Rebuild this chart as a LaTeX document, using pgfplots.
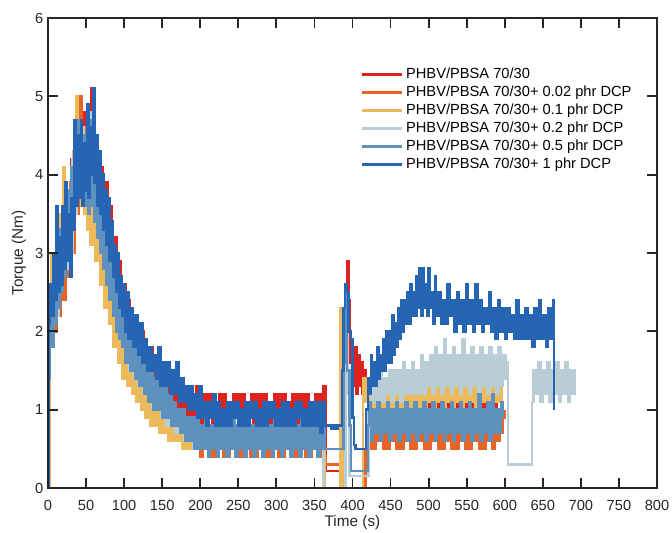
\documentclass[border=0pt]{standalone}
\usepackage{fontspec}
\setmainfont{Liberation Sans}
\usepackage{pgfplots}
\pgfplotsset{compat=1.18}

\definecolor{cRed}{RGB}{220,35,30}
\definecolor{cOrange}{RGB}{232,100,36}
\definecolor{cYellow}{RGB}{236,186,90}
\definecolor{cGray}{RGB}{185,205,215}
\definecolor{cMid}{RGB}{95,145,190}
\definecolor{cBlue}{RGB}{38,100,180}
\definecolor{axgray}{RGB}{38,38,38}

\begin{document}
\begin{tikzpicture}
\begin{axis}[
  scale only axis, width=456.75pt, height=352.5pt,
  xmin=0, xmax=800, ymin=0, ymax=6,
  xtick={0,50,...,800}, ytick={0,1,...,6},
  xtick pos=both, ytick pos=both,
  tick align=inside,
  major tick length=7.5pt,
  tick style={color=axgray, line width=1.4pt},
  axis line style={color=axgray, line width=1.2pt},
  axis on top,
  tick label style={font=\fontsize{11}{13}\selectfont, text=axgray},
  xticklabel style={yshift=-6pt},
  xlabel style={yshift=4pt},
  label style={font=\fontsize{11.5}{13}\selectfont, text=axgray},
  /pgf/number format/assume math mode=true,
  xlabel={Time (s)}, ylabel={Torque (Nm)},
  legend style={draw=none, fill=none, at={(0.507,0.905)}, anchor=north west,
    font=\fontsize{11}{13}\selectfont},
  legend cell align=left,
  legend image code/.code={\draw[#1] (0pt,0pt) -- (30pt,0pt);},
]
\coordinate (ll) at (rel axis cs:0,0);
\coordinate (ur) at (rel axis cs:1,1);
% PHBV/PBSA 70/30
\addplot[const plot, line width=1.8pt, cRed] coordinates {(0,0)(1,2.4)(4,2.0)(7,2.8)(10,2.3)(13,3.3)(16,2.6)(19,3.5)(22,2.9)(25,3.8)(28,3.2)(31,4.2)(34,3.6)(37,4.9)(40,3.8)(42,5.0)(45,4.0)(48,4.8)(51,3.9)(54,4.7)(57,5.1)(60,4.0)(63,4.5)(66,3.6)(69,4.1)(72,3.4)(75,3.9)(78,3.0)(81,3.6)(84,2.8)(87,3.2)(90,2.5)(93,2.9)(96,2.2)(99,2.6)(102,2.0)(105,2.4)(108,1.8)(111,2.2)(114,1.7)(117,2.1)(120,1.6)(123,2.0)(126,1.5)(129,1.8)(132,1.4)(135,1.8)(138,1.3)(141,1.7)(144,1.3)(147,1.6)(150,1.2)(153,1.5)(156,1.1)(159,1.5)(162,1.1)(165,1.4)(168,1.0)(171,1.4)(174,1.0)(177,1.3)(180,0.9)(183,1.3)(186,0.9)(189,1.2)(192,0.9)(195,1.3)(198,0.8)(201,1.2)(204,0.8)(207,1.2)(210,0.9)(213,1.2)(216,0.8)(219,1.1)(222,0.8)(225,1.2)(228,0.9)(231,1.2)(234,0.8)(237,1.1)(240,0.8)(243,1.2)(246,0.9)(249,1.2)(252,0.8)(255,1.2)(258,0.8)(261,1.1)(264,0.9)(267,1.2)(270,0.8)(273,1.2)(276,0.8)(279,1.2)(282,0.9)(285,1.2)(288,0.8)(291,1.1)(294,0.8)(297,1.2)(300,0.9)(303,1.2)(306,0.8)(309,1.2)(312,0.8)(315,1.1)(318,0.9)(321,1.2)(324,0.8)(327,1.2)(330,0.8)(333,1.2)(336,0.9)(339,1.2)(342,0.8)(345,1.1)(348,0.8)(351,1.2)(354,0.9)(357,1.2)(360,0.8)(362,1.3)(365,0.22)(389,0.22)(391,1.6)(393,2.9)(395,2.4)(397,1.6)(399,1.8)(401,1.3)(403,1.8)(405,1.2)(407,1.7)(409,1.3)(411,1.6)(413,1.2)(415,1.5)(417,1.2)(419,1.4)(421,1.0)(424,1.3)(427,0.9)(430,1.2)(433,0.9)(436,1.3)(439,0.9)(442,1.2)(445,0.9)(448,1.3)(451,1.0)(454,1.2)(457,0.9)(460,1.3)(463,1.0)(466,1.4)(469,1.0)(472,1.3)(475,0.9)(478,1.2)(481,1.0)(484,1.4)(487,1.0)(490,1.3)(493,0.9)(496,1.5)(499,1.0)(502,1.3)(505,1.0)(508,1.4)(511,0.9)(514,1.3)(517,1.0)(520,1.5)(523,1.0)(526,1.3)(529,1.0)(532,1.4)(535,0.9)(538,1.3)(541,1.0)(544,1.5)(547,1.0)(550,1.4)(553,1.0)(556,1.3)(559,0.9)(562,1.4)(565,1.0)(568,1.3)(571,1.0)(574,1.4)(577,1.0)(580,1.3)(583,0.9)(586,1.2)(589,0.9)(591,1.0)};
% + 0.02 phr DCP
\addplot[const plot, line width=1.8pt, cOrange] coordinates {(0,0)(2,1.8)(5,2.6)(8,2.0)(11,2.9)(14,2.2)(17,3.1)(20,2.4)(23,3.4)(26,2.7)(29,3.9)(32,3.0)(35,4.6)(38,3.5)(41,5.0)(44,3.7)(47,4.6)(50,3.6)(53,4.5)(56,3.5)(59,4.7)(62,3.4)(65,4.0)(68,3.1)(71,3.6)(74,2.8)(77,3.3)(80,2.5)(83,2.9)(86,2.2)(89,2.6)(92,1.9)(95,2.3)(98,1.7)(101,2.1)(104,1.5)(107,1.9)(110,1.4)(113,1.8)(116,1.3)(119,1.6)(122,1.2)(125,1.5)(128,1.0)(131,1.4)(134,1.0)(137,1.3)(140,0.9)(143,1.2)(146,0.8)(149,1.1)(152,0.8)(155,1.0)(158,0.7)(161,1.0)(164,0.6)(167,0.9)(170,0.6)(173,0.9)(176,0.5)(179,0.8)(182,0.5)(185,0.8)(188,0.5)(191,0.8)(194,0.5)(197,0.8)(200,0.4)(203,0.7)(206,0.5)(209,0.8)(212,0.4)(215,0.7)(218,0.4)(221,0.8)(224,0.5)(227,0.7)(230,0.4)(233,0.8)(236,0.4)(239,0.7)(242,0.5)(245,0.8)(248,0.4)(251,0.7)(254,0.4)(257,0.8)(260,0.5)(263,0.7)(266,0.4)(269,0.8)(272,0.4)(275,0.7)(278,0.5)(281,0.8)(284,0.4)(287,0.7)(290,0.4)(293,0.8)(296,0.5)(299,0.7)(302,0.4)(305,0.8)(308,0.4)(311,0.7)(314,0.5)(317,0.8)(320,0.4)(323,0.7)(326,0.4)(329,0.8)(332,0.5)(335,0.7)(338,0.4)(341,0.8)(344,0.4)(347,0.7)(350,0.5)(353,0.8)(356,0.4)(359,0.7)(362,0.4)(365,0.3)(390,0.0)(415,0.0)(417,0.5)(419,0.8)(422,0.5)(425,0.9)(428,0.5)(431,0.8)(434,0.6)(437,0.9)(440,0.5)(443,0.8)(446,0.5)(449,0.9)(452,0.6)(455,0.8)(458,0.5)(461,0.9)(464,0.5)(467,0.8)(470,0.6)(473,0.9)(476,0.5)(479,0.8)(482,0.5)(485,0.9)(488,0.6)(491,0.8)(494,0.5)(497,0.9)(500,0.5)(503,0.8)(506,0.6)(509,0.9)(512,0.5)(515,0.8)(518,0.5)(521,0.9)(524,0.6)(527,0.8)(530,0.5)(533,0.9)(536,0.5)(539,0.8)(542,0.6)(545,0.9)(548,0.5)(551,0.8)(554,0.5)(557,0.9)(560,0.6)(563,0.8)(566,0.5)(569,0.9)(572,0.5)(575,0.8)(578,0.6)(581,0.9)(584,0.5)(587,0.8)(590,0.6)(593,0.9)(596,0.7)(598,0.9)(600,1.0)};
% + 0.1 phr DCP
\addplot[const plot, line width=1.8pt, cYellow] coordinates {(0,0)(2,2.4)(4,3.0)(6,2.3)(8,2.9)(10,2.4)(12,3.3)(14,2.6)(16,3.5)(18,2.8)(20,4.1)(22,3.0)(24,3.7)(26,3.1)(28,3.6)(30,3.2)(33,4.3)(35,3.6)(37,5.0)(39,3.8)(41,4.7)(43,3.6)(45,4.4)(47,3.5)(49,4.0)(51,3.3)(53,3.9)(56,3.1)(59,3.6)(62,2.9)(65,3.3)(68,2.6)(71,3.0)(74,2.3)(77,2.7)(80,2.1)(83,2.4)(86,1.8)(89,2.2)(92,1.6)(95,2.0)(98,1.4)(101,1.8)(104,1.3)(107,1.6)(110,1.2)(113,1.5)(116,1.1)(119,1.4)(122,1.0)(125,1.3)(128,0.9)(131,1.2)(134,0.8)(137,1.1)(140,0.8)(143,1.0)(146,0.7)(149,1.0)(152,0.7)(155,0.9)(158,0.6)(161,0.9)(164,0.6)(167,0.8)(170,0.6)(173,0.8)(176,0.5)(179,0.8)(182,0.5)(185,0.7)(188,0.5)(191,0.7)(194,0.5)(197,0.8)(200,0.5)(204,0.7)(208,0.5)(212,0.8)(216,0.5)(220,0.7)(224,0.5)(228,0.8)(232,0.5)(236,0.7)(240,0.5)(244,0.8)(248,0.5)(252,0.7)(256,0.5)(260,0.8)(264,0.5)(268,0.7)(272,0.5)(276,0.8)(280,0.5)(284,0.7)(288,0.5)(292,0.8)(296,0.5)(300,0.7)(304,0.5)(308,0.8)(312,0.5)(316,0.7)(320,0.5)(324,0.8)(328,0.5)(332,0.7)(336,0.5)(340,0.8)(344,0.5)(348,0.7)(352,0.5)(356,0.8)(360,0.5)(364,0.0)(384,2.3)(387,0.0)(413,0.0)(414,1.4)(417,1.1)(420,1.4)(423,1.0)(426,1.3)(429,0.9)(432,1.2)(435,1.0)(438,1.3)(441,0.9)(444,1.2)(447,1.0)(450,1.3)(453,0.9)(456,1.2)(459,1.0)(462,1.3)(465,0.9)(468,1.2)(471,1.0)(474,1.3)(477,0.9)(480,1.3)(483,1.0)(486,1.2)(489,1.0)(492,1.3)(495,1.0)(498,1.3)(501,1.1)(504,1.4)(507,1.0)(510,1.3)(513,1.1)(516,1.4)(519,1.0)(522,1.3)(525,1.1)(528,1.4)(531,1.0)(534,1.3)(537,1.1)(540,1.4)(543,1.0)(546,1.4)(549,1.1)(552,1.4)(555,1.1)(558,1.4)(561,1.0)(564,1.4)(567,1.1)(570,1.4)(573,1.1)(576,1.4)(579,1.1)(582,1.4)(585,1.1)(588,1.4)(591,1.1)(594,1.3)(596,1.0)};
% + 0.2 phr DCP
\addplot[const plot, line width=1.8pt, cGray] coordinates {(0,0)(1,1.5)(3,2.3)(5,1.9)(8,2.8)(11,2.2)(14,3.2)(17,2.5)(20,3.4)(23,2.8)(26,3.7)(29,3.0)(32,4.2)(35,3.5)(38,4.7)(41,3.7)(44,4.6)(47,3.6)(50,4.5)(53,3.7)(56,4.8)(59,3.6)(62,4.3)(65,3.3)(68,3.9)(71,3.0)(74,3.5)(77,2.7)(80,3.2)(83,2.4)(86,2.9)(89,2.1)(92,2.6)(95,1.9)(98,2.4)(101,1.7)(104,2.2)(107,1.5)(110,2.0)(113,1.4)(116,1.8)(119,1.3)(122,1.7)(125,1.2)(128,1.6)(131,1.1)(134,1.5)(137,1.0)(140,1.4)(143,1.0)(146,1.3)(149,0.9)(152,1.2)(155,0.8)(158,1.1)(161,0.8)(164,1.1)(167,0.7)(170,1.0)(173,0.7)(176,1.0)(179,0.6)(182,0.9)(185,0.6)(188,0.9)(191,0.5)(194,0.8)(197,0.5)(200,0.8)(205,0.5)(210,0.8)(215,0.5)(220,0.8)(225,0.5)(230,0.8)(235,0.5)(240,0.8)(245,0.5)(250,0.8)(255,0.5)(260,0.8)(265,0.5)(270,0.8)(275,0.5)(280,0.8)(285,0.5)(290,0.8)(295,0.5)(300,0.8)(305,0.5)(310,0.8)(315,0.5)(320,0.8)(325,0.5)(330,0.8)(335,0.5)(340,0.8)(345,0.5)(350,0.8)(355,0.5)(360,0.7)(362,0.0)(389,0.0)(391,2.5)(394,1.2)(396,0.15)(419,0.15)(421,1.1)(424,1.5)(427,1.1)(430,1.4)(433,1.1)(436,1.5)(439,1.1)(442,1.4)(445,1.2)(448,1.5)(451,1.1)(454,1.5)(457,1.2)(460,1.5)(463,1.1)(466,1.6)(469,1.2)(472,1.5)(475,1.2)(478,1.6)(481,1.2)(484,1.5)(487,1.2)(490,1.7)(493,1.2)(496,1.6)(499,1.3)(502,1.7)(505,1.2)(508,1.8)(511,1.3)(514,1.7)(517,1.2)(520,1.9)(523,1.3)(526,1.7)(529,1.2)(532,1.8)(535,1.3)(538,1.7)(541,1.2)(544,1.9)(547,1.3)(550,1.7)(553,1.2)(556,1.8)(559,1.3)(562,1.7)(565,1.2)(568,1.8)(571,1.3)(574,1.7)(577,1.2)(580,1.8)(583,1.3)(586,1.7)(589,1.2)(592,1.8)(595,1.3)(598,1.7)(601,1.4)(603,1.6)(604,0.3)(634,0.3)(636,1.1)(638,1.5)(641,1.2)(644,1.6)(647,1.1)(650,1.5)(653,1.2)(656,1.6)(659,1.1)(662,1.5)(665,1.2)(668,1.6)(671,1.1)(674,1.5)(677,1.2)(680,1.6)(683,1.1)(686,1.5)(689,1.2)(692,1.5)(694,1.5)};
% + 0.5 phr DCP
\addplot[const plot, line width=1.8pt, cMid] coordinates {(0,0)(1,1.4)(3,2.2)(5,1.8)(7,2.7)(9,2.1)(11,3.0)(13,2.3)(15,3.3)(17,2.5)(19,3.5)(21,2.7)(23,3.6)(25,2.9)(27,3.8)(29,3.0)(31,4.1)(33,3.4)(35,4.6)(37,3.6)(39,4.7)(41,3.8)(43,4.6)(45,3.7)(47,4.5)(49,3.6)(51,4.4)(53,3.5)(55,4.7)(57,3.6)(59,4.4)(61,3.4)(63,4.1)(65,3.2)(67,3.8)(69,3.0)(71,3.6)(73,2.8)(75,3.4)(77,2.6)(79,3.1)(81,2.4)(83,2.9)(85,2.2)(87,2.7)(89,2.0)(91,2.5)(93,1.9)(95,2.3)(97,1.8)(99,2.3)(102,1.6)(105,2.1)(108,1.5)(111,1.9)(114,1.4)(117,1.8)(120,1.3)(123,1.7)(126,1.2)(129,1.6)(132,1.1)(135,1.5)(138,1.0)(141,1.4)(144,1.0)(147,1.3)(150,0.9)(153,1.3)(156,0.9)(159,1.2)(162,0.8)(165,1.1)(168,0.8)(171,1.0)(174,0.7)(177,1.0)(180,0.6)(183,0.9)(186,0.6)(189,0.9)(192,0.5)(195,0.9)(198,0.5)(201,0.8)(204,0.5)(207,0.9)(210,0.4)(213,0.8)(216,0.5)(219,0.8)(222,0.4)(225,0.9)(228,0.5)(231,0.8)(234,0.4)(237,0.8)(240,0.5)(243,0.9)(246,0.4)(249,0.8)(252,0.5)(255,0.8)(258,0.4)(261,0.9)(264,0.5)(267,0.8)(270,0.4)(273,0.8)(276,0.5)(279,0.9)(282,0.4)(285,0.8)(288,0.5)(291,0.8)(294,0.4)(297,0.9)(300,0.5)(303,0.8)(306,0.4)(309,0.8)(312,0.5)(315,0.9)(318,0.4)(321,0.8)(324,0.5)(327,0.8)(330,0.4)(333,0.9)(336,0.5)(339,0.8)(342,0.4)(345,0.8)(348,0.5)(351,0.9)(354,0.4)(357,0.8)(360,0.5)(362,0.8)(364,0.5)(386,0.5)(388,1.6)(390,2.6)(393,1.5)(396,0.8)(398,0.22)(418,0.22)(420,0.8)(422,1.1)(424,0.6)(427,1.0)(430,0.7)(433,1.1)(436,0.6)(439,1.0)(442,0.7)(445,1.1)(448,0.6)(451,1.0)(454,0.7)(457,1.1)(460,0.6)(463,1.0)(466,0.7)(469,1.1)(472,0.6)(475,1.0)(478,0.7)(481,1.1)(484,0.6)(487,1.0)(490,0.7)(493,1.1)(496,0.6)(499,1.0)(502,0.7)(505,1.1)(508,0.6)(511,1.0)(514,0.7)(517,1.1)(520,0.6)(523,1.0)(526,0.7)(529,1.1)(532,0.6)(535,1.0)(538,0.7)(541,1.1)(544,0.6)(547,1.0)(550,0.7)(553,1.1)(556,0.6)(559,1.0)(562,0.7)(565,1.2)(568,0.6)(571,1.0)(574,0.7)(577,1.1)(580,0.6)(583,1.2)(586,0.7)(589,1.0)(592,0.7)(595,1.1)(597,0.9)};
% + 1 phr DCP
\addplot[const plot, line width=1.8pt, cBlue] coordinates {(0,0)(1,2.1)(3,2.6)(5,2.2)(7,3.0)(9,2.4)(11,3.6)(13,2.5)(15,3.2)(17,2.6)(19,3.6)(21,2.8)(23,3.9)(25,2.9)(27,3.5)(29,2.7)(31,3.7)(33,3.3)(35,4.7)(37,3.6)(39,4.5)(41,3.7)(43,4.7)(45,3.6)(47,4.4)(49,3.8)(51,4.9)(53,3.7)(55,4.6)(57,4.0)(59,5.1)(61,3.9)(63,4.5)(65,3.6)(67,4.3)(69,3.5)(71,4.0)(73,3.3)(75,3.8)(77,3.1)(79,3.7)(81,2.9)(83,3.4)(85,2.7)(87,3.1)(89,2.5)(91,3.0)(93,2.3)(95,2.7)(97,2.2)(99,2.6)(101,2.0)(103,2.5)(106,1.9)(109,2.3)(112,1.8)(115,2.2)(118,1.7)(121,2.1)(124,1.6)(127,1.9)(130,1.5)(133,1.8)(136,1.5)(139,1.7)(142,1.4)(145,1.8)(148,1.3)(151,1.6)(154,1.3)(157,1.6)(160,1.2)(163,1.5)(166,1.2)(169,1.6)(172,1.1)(175,1.4)(178,1.1)(181,1.3)(184,1.0)(187,1.3)(190,1.0)(193,1.2)(196,0.9)(199,1.3)(202,0.9)(205,1.1)(208,0.8)(211,1.1)(214,0.9)(217,1.2)(220,0.8)(223,1.1)(226,0.8)(229,1.0)(232,0.8)(235,1.1)(238,0.8)(241,1.1)(244,0.9)(247,1.1)(250,0.8)(253,1.0)(256,0.8)(259,1.1)(262,0.8)(265,1.1)(268,0.9)(271,1.1)(274,0.8)(277,1.0)(280,0.8)(283,1.1)(286,0.8)(289,1.1)(292,0.9)(295,1.1)(298,0.8)(301,1.0)(304,0.8)(307,1.1)(310,0.8)(313,1.1)(316,0.8)(319,1.0)(322,0.8)(325,1.1)(328,0.9)(331,1.1)(334,0.8)(337,1.0)(340,0.8)(343,1.1)(346,0.8)(349,1.1)(352,0.8)(355,1.1)(358,0.7)(361,1.1)(363,0.8)(372,0.75)(375,0.8)(378,0.75)(381,0.8)(386,1.5)(388,2.3)(390,2.6)(392,2.5)(395,2.0)(398,1.9)(400,0.9)(402,0.55)(404,0.5)(416,0.5)(418,1.0)(420,1.4)(422,1.2)(424,1.7)(426,1.3)(428,1.6)(430,1.3)(432,1.8)(434,1.4)(436,1.7)(438,1.5)(440,1.9)(442,1.5)(444,2.0)(446,1.6)(448,2.0)(450,1.6)(452,2.2)(454,1.7)(456,2.1)(458,1.8)(460,2.3)(462,1.9)(464,2.4)(466,2.0)(468,2.4)(470,2.1)(472,2.5)(474,2.1)(476,2.6)(478,2.2)(480,2.5)(482,2.2)(484,2.7)(486,2.3)(488,2.8)(490,2.2)(492,2.8)(494,2.3)(496,2.6)(498,2.2)(500,2.8)(502,2.3)(504,2.5)(506,2.1)(508,2.7)(510,2.2)(513,2.5)(516,2.1)(519,2.4)(522,2.1)(525,2.6)(528,2.2)(531,2.4)(534,2.0)(537,2.5)(540,2.1)(543,2.4)(546,2.0)(549,2.6)(552,2.1)(555,2.4)(558,2.0)(561,2.6)(564,2.1)(567,2.4)(570,2.0)(573,2.3)(576,2.1)(579,2.5)(582,2.0)(585,2.3)(588,1.9)(591,2.4)(594,2.0)(597,2.3)(600,1.9)(603,2.3)(606,2.0)(609,2.2)(612,1.9)(615,2.4)(618,1.9)(621,2.2)(624,1.9)(627,2.3)(630,1.9)(633,2.2)(636,1.8)(639,2.3)(642,1.9)(645,2.4)(648,1.9)(651,2.2)(654,1.8)(657,2.3)(660,1.9)(663,2.4)(665,1.0)};
\legend{PHBV/PBSA 70/30, PHBV/PBSA 70/30+ 0.02 phr DCP, PHBV/PBSA 70/30+ 0.1 phr DCP, PHBV/PBSA 70/30+ 0.2 phr DCP, PHBV/PBSA 70/30+ 0.5 phr DCP, PHBV/PBSA 70/30+ 1 phr DCP}
\end{axis}
\pgfresetboundingbox
\path ([shift={(-36pt,-33pt)}]ll) rectangle ([shift={(11.25pt,13.5pt)}]ur);
\end{tikzpicture}
\end{document}
